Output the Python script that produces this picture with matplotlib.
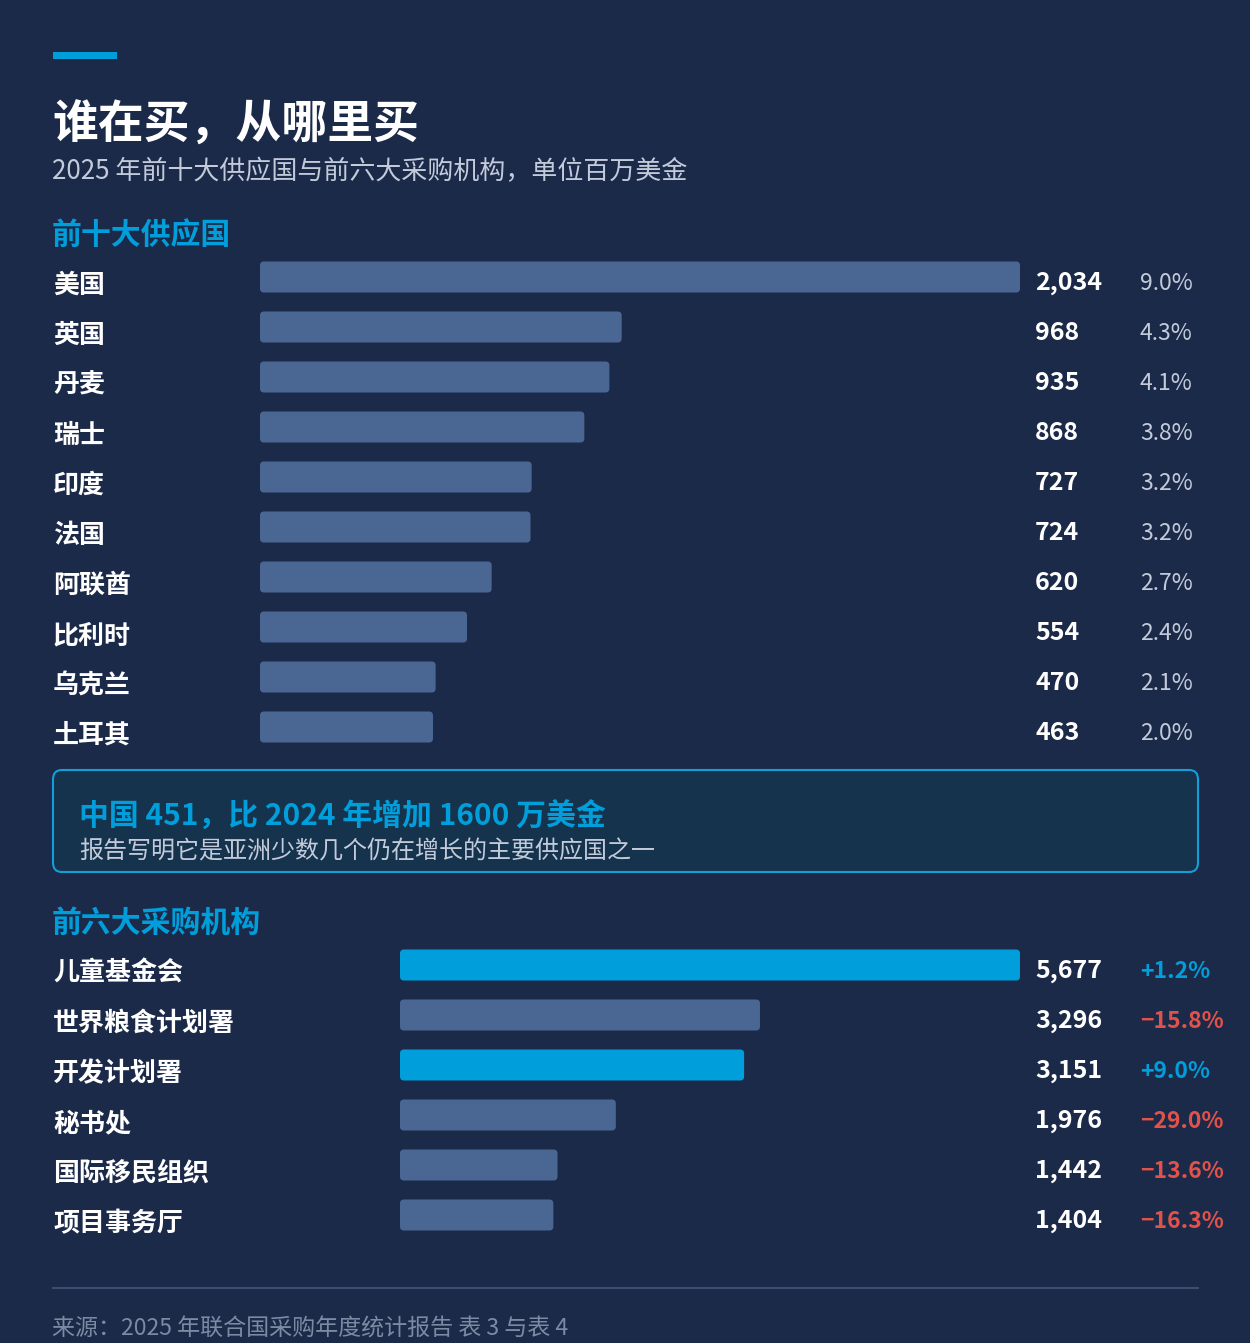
import matplotlib
matplotlib.use('Agg')
import matplotlib.pyplot as plt
import matplotlib.transforms as mtransforms
from matplotlib.patches import FancyBboxPatch, Rectangle
from matplotlib.lines import Line2D

plt.rcParams['font.family'] = ['Noto Sans CJK SC', 'DejaVu Sans']

# Data
suppliers = ['美国', '英国', '丹麦', '瑞士', '印度', '法国', '阿联酋', '比利时', '乌克兰', '土耳其']
supplier_values = [2034, 968, 935, 868, 727, 724, 620, 554, 470, 463]
supplier_share = [9.0, 4.3, 4.1, 3.8, 3.2, 3.2, 2.7, 2.4, 2.1, 2.0]

agencies = ['儿童基金会', '世界粮食计划署', '开发计划署', '秘书处', '国际移民组织', '项目事务厅']
agency_values = [5677, 3296, 3151, 1976, 1442, 1404]
agency_change = [1.2, -15.8, 9.0, -29.0, -13.6, -16.3]

# Colours
BG = '#1c2a4a'
SLATE = '#4a6794'
BLUE = '#009fdb'
RED = '#e0524a'
WHITE = '#ffffff'
MUTED = '#c3cbdb'
GREY = '#7d8aa3'

W, H = 1250, 1343
fig = plt.figure(figsize=(W / 100, H / 100), dpi=100, facecolor=BG)


def fx(x):
    return x / W


def fy(y):
    return 1 - y / H


def text(x, y, s, size, color, weight='normal', va='center', **kw):
    fig.text(fx(x), fy(y), s, fontsize=size, color=color, fontweight=weight,
             va=va, ha='left', **kw)


# Top accent bar
fig.patches.append(Rectangle((fx(53), fy(59)), fx(64), 7 / H, transform=fig.transFigure,
                             facecolor=BLUE, edgecolor='none'))

text(52, 126, '谁在买，从哪里买', 33, WHITE, 'bold')
text(52, 172, '2025 年前十大供应国与前六大采购机构，单位百万美金', 18.7, MUTED)


def bar_block(top, bottom, left, right, labels, values, xmax, colors, extra, extra_colors,
              extra_weight):
    ax = fig.add_axes([fx(left), fy(bottom), fx(right - left), (bottom - top) / H])
    ax.set_facecolor('none')
    n = len(labels)
    ax.set_xlim(0, xmax)
    ax.set_ylim(n - 0.5, -0.5)
    ax.axis('off')
    # rounded bars: radius of ~4 px in both directions
    px_x = xmax / (right - left)
    px_y = n / (bottom - top)
    h = 0.62
    for i, v in enumerate(values):
        ax.add_patch(FancyBboxPatch((0, i - h / 2), v, h,
                                    boxstyle=f'round,pad=0,rounding_size={4 * px_x}',
                                    mutation_aspect=px_y / px_x,
                                    facecolor=colors[i], edgecolor='none'))
    tr = mtransforms.blended_transform_factory(fig.transFigure, ax.transData)
    for i in range(n):
        fig.text(fx(53), i + 0.17, labels[i], transform=tr, fontsize=18.7,
                 color=WHITE, fontweight='bold', va='center', ha='left')
        fig.text(fx(1035), i + 0.12, f'{values[i]:,}', transform=tr, fontsize=18,
                 color=WHITE, fontweight='bold', va='center', ha='left')
        fig.text(fx(1140), i + 0.13, extra[i], transform=tr, fontsize=16.5,
                 color=extra_colors[i], fontweight=extra_weight, va='center', ha='left')
    return ax


# Suppliers
text(52, 235, '前十大供应国', 21.5, BLUE, 'bold')
bar_block(252, 752, 260, 1020, suppliers, supplier_values, max(supplier_values),
          [SLATE] * len(suppliers), [f'{v:.1f}%' for v in supplier_share],
          [MUTED] * len(suppliers), 'normal')

# Callout box
box = FancyBboxPatch((fx(53), fy(872)), fx(1145), 102 / H,
                     boxstyle='round,pad=0,rounding_size=0.007',
                     transform=fig.transFigure, facecolor='#15334d',
                     edgecolor='#129ed8', linewidth=1.5)
fig.patches.append(box)
text(79, 817, '中国 451，比 2024 年增加 1600 万美金', 21.5, BLUE, 'bold')
text(79, 851, '报告写明它是亚洲少数几个仍在增长的主要供应国之一', 17.3, MUTED)

# Agencies
text(52, 923, '前六大采购机构', 21.5, BLUE, 'bold')
agency_colors = [BLUE if c > 0 else SLATE for c in agency_change]
agency_text = [f'+{c:.1f}%' if c > 0 else f'\u2212{abs(c):.1f}%' for c in agency_change]
agency_text_colors = [BLUE if c > 0 else RED for c in agency_change]
bar_block(940, 1240, 400, 1020, agencies, agency_values, max(agency_values),
          agency_colors, agency_text, agency_text_colors, 'bold')

# Footer
fig.lines.append(Line2D([fx(53), fx(1198)], [fy(1288), fy(1288)], transform=fig.transFigure,
                        color='#46557a', linewidth=1.2))
text(52, 1329, '来源：2025 年联合国采购年度统计报告 表 3 与表 4', 16.6, GREY)

fig.savefig('out.png', dpi=100, facecolor=BG)
